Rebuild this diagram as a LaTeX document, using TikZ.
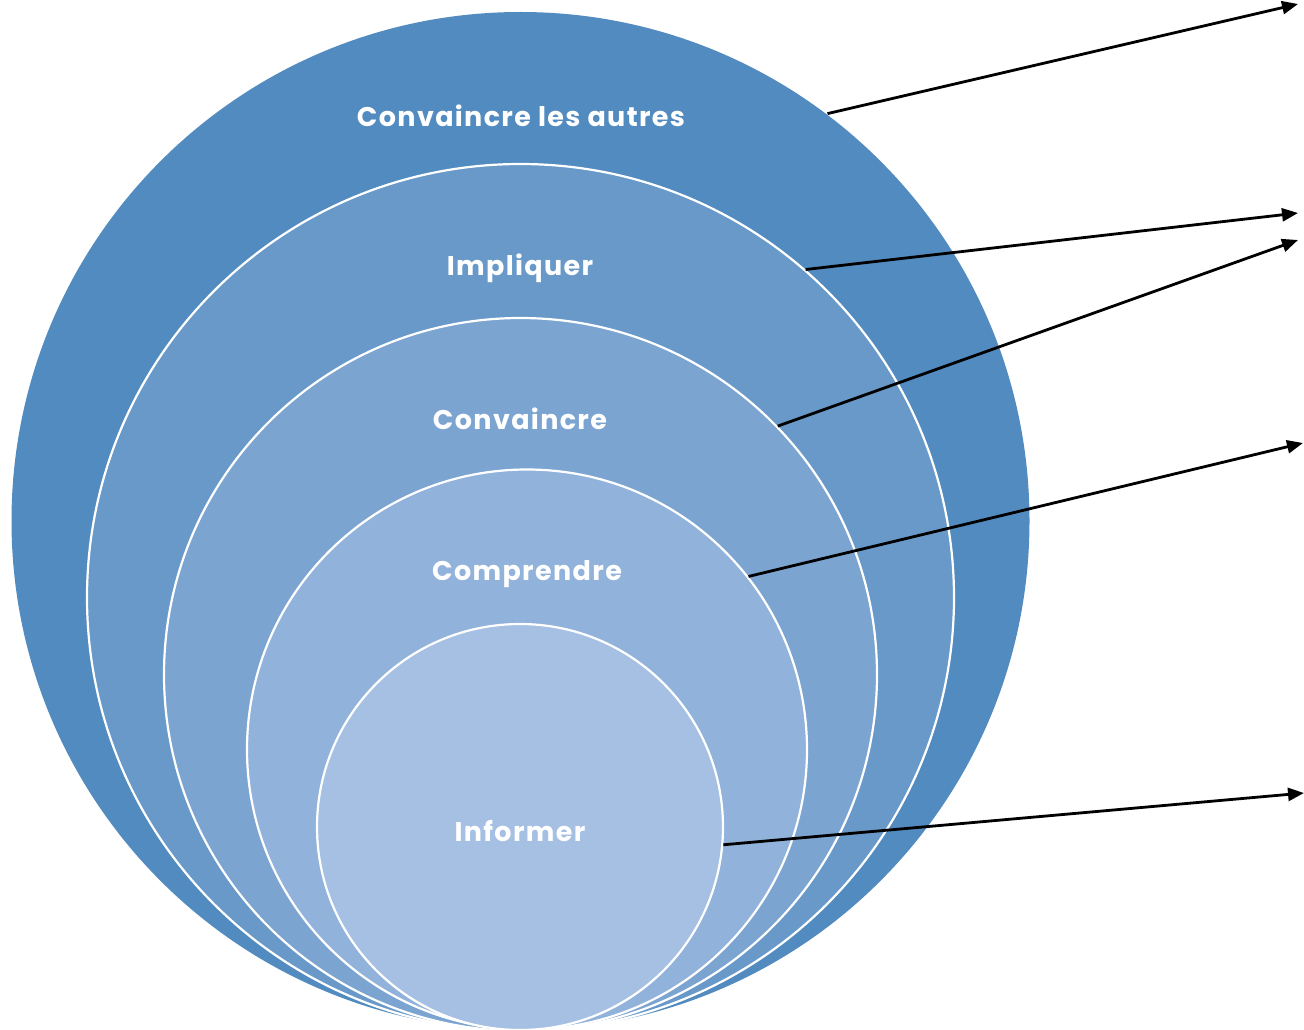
\documentclass[tikz,border=0pt]{standalone}
\usepackage{fontspec}
\setmainfont{Poppins}[LetterSpace=5]
\usetikzlibrary{arrows.meta}
\definecolor{cA}{HTML}{528BBF}
\definecolor{cB}{HTML}{6899C9}
\definecolor{cC}{HTML}{7CA4D1}
\definecolor{cD}{HTML}{91B2DA}
\definecolor{cE}{HTML}{A5C0E3}
\tikzset{
  ring/.style={circle, draw=white, line width=2.2pt, inner sep=0pt},
  lbl/.style={text=white, font=\fontsize{27}{32}\selectfont\bfseries, inner sep=0pt},
  arr/.style={line width=2.8pt, -{Triangle[length=16pt,width=13pt]}}
}
\begin{document}
\begin{tikzpicture}[x=1pt,y=-1pt]
\useasboundingbox (0,0) rectangle (1304,1030);
\node[ring, fill=cA, draw=none, minimum size=1018pt] (c1) at (520.5,521) {};
\node[ring, fill=cB, minimum size=867pt] (c2) at (520.5,597.5) {};
\node[ring, fill=cC, minimum size=713pt] (c3) at (520.5,674.5) {};
\node[ring, fill=cD, minimum size=560pt] (c4) at (527,749.5) {};
\node[ring, fill=cE, minimum size=406pt] (c5) at (520,827) {};
\node[lbl] (t1) at (521,116) {Convaincre les autres};
\node[lbl] (t2) at (520,268) {Impliquer};
\node[lbl] (t3) at (520,419) {Convaincre};
\node[lbl] (t4) at (527,574) {Comprendre};
\node[lbl] (t5) at (520,831) {Informer};
\coordinate (e1) at (1298,4);
\coordinate (e2) at (1298,213);
\coordinate (e3) at (1298,240);
\coordinate (e4) at (1303,443);
\coordinate (e5) at (1304,793);
\draw[arr] (c1.53.3) -- (e1);
\draw[arr] (c2.49.8) -- (e2);
\draw[arr] (c3.44.1) -- (e3);
\draw[arr] (c4.38.4) -- (e4);
\draw[arr] (c5.-5.4) -- (e5);
\end{tikzpicture}
\end{document}
